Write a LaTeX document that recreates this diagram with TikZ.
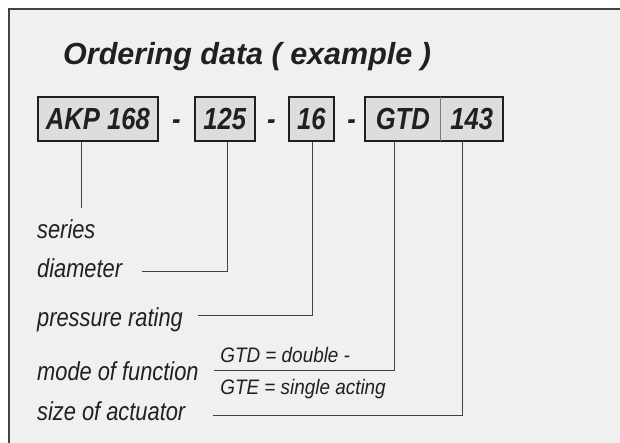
\documentclass[tikz,border=0pt]{standalone}
\usepackage{fontspec}
\setmainfont{Liberation Sans}[FakeStretch=0.84]
\newfontfamily\headfont{Liberation Sans}
\newfontfamily\notefont{Liberation Sans}[FakeStretch=0.9]

\definecolor{ink}{HTML}{231F20}
\definecolor{panel}{HTML}{F0F0F0}
\definecolor{cell}{HTML}{DCDDDE}

\begin{document}
\begin{tikzpicture}[x=0.8401pt, y=-1pt, every node/.style={inner sep=0pt, text=ink},%
        code/.style={fill=cell, minimum height=44pt, font=\fontsize{30.5}{36}\selectfont\bfseries\itshape},
        codebox/.style={code, draw=ink, line width=2pt},
        joiner/.style={anchor=base, font=\fontsize{30.5}{36}\selectfont\bfseries\itshape},
        caption/.style={anchor=base west, font=\fontsize{26}{30}\selectfont\itshape},
        small/.style={anchor=base west, font=\notefont\fontsize{21}{25}\selectfont\itshape},
        leader/.style={draw=ink!85, line width=0.9pt}]
    \useasboundingbox (0,0) rectangle (738,443);
    \fill[panel] (10.7,9) rectangle (738,443);
    \draw[ink!85, line width=1.4pt] (10.7,443) -- (10.7,9) -- (738,9);

    \node[caption, font=\headfont\fontsize{30.5}{36}\selectfont\bfseries\itshape] (title) at (75,64.3) {Ordering data ( example )};

    % order code
    \node[codebox, minimum width=120.6pt] (akp) at (116.5,119) {AKP 168};
    \node[joiner] (j1) at (210,130) {-};
    \node[codebox, minimum width=59.6pt] (d125) at (267.5,119) {125};
    \node[joiner] (j2) at (323,130) {-};
    \node[codebox, minimum width=44.5pt] (d16) at (370.5,119) {16};
    \node[joiner] (j3) at (418.5,130) {-};
    \node[code, minimum width=74.8pt] (gtd) at (479.5,119) {GTD};
    \node[code, minimum width=63pt] (act) at (561.5,119) {143};
    \draw[ink, line width=2pt] (gtd.north west) rectangle (act.south east);
    \draw[ink!60, line width=1pt] (gtd.north east) -- (gtd.south east);

    % meanings
    \node[caption] (ser) at (44,239) {series};
    \node[caption] (dia) at (44,277.5) {diameter};
    \node[caption] (prs) at (44,326) {pressure rating};
    \node[caption] (mod) at (44,380) {mode of function};
    \node[caption] (siz) at (44,420) {size of actuator};
    \node[small] (dbl) at (262,362.7) {GTD = double -};
    \node[small] (sgl) at (262,394.3) {GTE = single acting};

    \coordinate (akpfoot) at (96.8,207.7);
    \coordinate (diafoot) at (168.6,271.7);
    \coordinate (prsfoot) at (236,315);
    \coordinate (modfoot) at (254.5,370);
    \coordinate (sizfoot) at (253,415.7);

    \draw[leader] (akp.south -| akpfoot) -- (akpfoot);
    \draw[leader] (diafoot) -| ([xshift=2.5pt]d125.south);
    \draw[leader] (prsfoot) -| ([xshift=0.8pt]d16.south);
    \draw[leader] (modfoot) -| ([xshift=-8.4pt]gtd.south);
    \draw[leader] (sizfoot) -| ([xshift=-9.2pt]act.south);
\end{tikzpicture}
\end{document}
